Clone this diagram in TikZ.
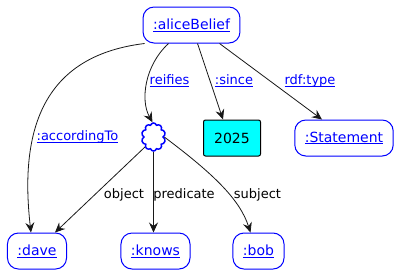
\documentclass[tikz,border=0pt]{standalone}
\usepackage{fontspec}
\setmainfont{DejaVu Sans}
\usetikzlibrary{arrows.meta,shapes.symbols}
\definecolor{linkblue}{HTML}{0000FF}
\definecolor{edgegray}{HTML}{181818}
\definecolor{litcyan}{HTML}{00FFFF}
% underlined link text with a fixed rule depth
\newcommand{\lnk}[1]{{\color{linkblue}\setbox0\hbox{#1}\rlap{\rule[-2pt]{\wd0}{0.8pt}}\box0}}

\begin{document}
\begin{tikzpicture}[x=1pt,y=-1pt,
    res/.style={draw=linkblue, line width=1pt, fill=white, rounded corners=11pt,
      minimum height=36pt, inner xsep=10pt, font=\fontsize{14}{16}\selectfont},
    lit/.style={draw=black, line width=1pt, fill=litcyan, rounded corners=2pt,
      minimum width=57pt, minimum height=36pt, font=\fontsize{14}{16}\selectfont},
    bnode/.style={cloud, cloud puffs=10, cloud puff arc=150, draw=linkblue, line width=1.5pt,
      minimum width=24pt, minimum height=28pt, inner sep=0pt},
    rel/.style={-{Stealth[length=10pt,width=9pt,inset=3.5pt]}, draw=edgegray, line width=0.8pt},
    lbl/.style={font=\fontsize{13}{15}\selectfont, inner sep=1pt}]
  \useasboundingbox (0,0) rectangle (398,274);

  % resources
  \node[res] (alice) at (191.5,25) {\lnk{:aliceBelief}};
  \node[bnode] (blank) at (153.5,137) {};
  \node[lit] (year) at (232,138) {2025};
  \node[res] (stmt) at (344,138) {\lnk{:Statement}};
  \node[res] (dave) at (37,251) {\lnk{:dave}};
  \node[res] (knows) at (155.5,251) {\lnk{:knows}};
  \node[res] (bob) at (258.5,251) {\lnk{:bob}};

  % statements about the belief
  \draw[rel] ([xshift=2pt]alice.south west) .. controls (50,55) and (18,120) .. ([xshift=-6pt]dave.north);
  \draw[rel] ([xshift=-23pt]alice.south) .. controls (145,65) and (140,100) .. ([xshift=-1pt]blank.north);
  \draw[rel] ([xshift=6pt]alice.south) -- ([xshift=-9pt]year.north);
  \draw[rel] ([xshift=28pt]alice.south) -- ([xshift=-22pt]stmt.north);

  % the reified triple
  \draw[rel] (blank.south west) -- ([xshift=18pt]dave.north);
  \draw[rel] (blank.south) -- ([xshift=-2pt]knows.north);
  \draw[rel] (blank.east) .. controls (215,175) and (240,200) .. ([xshift=-8pt]bob.north);

  \node[lbl] (lacc) at (77.5,137) {\lnk{:accordingTo}};
  \node[lbl] (lreif) at (169.5,81) {\lnk{reifies}};
  \node[lbl] (lsince) at (234,81) {\lnk{:since}};
  \node[lbl] (ltype) at (310,81) {\lnk{rdf:type}};
  \node[lbl] (lobj) at (124,195) {object};
  \node[lbl] (lpred) at (184,195) {predicate};
  \node[lbl] (lsubj) at (257.5,195) {subject};
\end{tikzpicture}
\end{document}
